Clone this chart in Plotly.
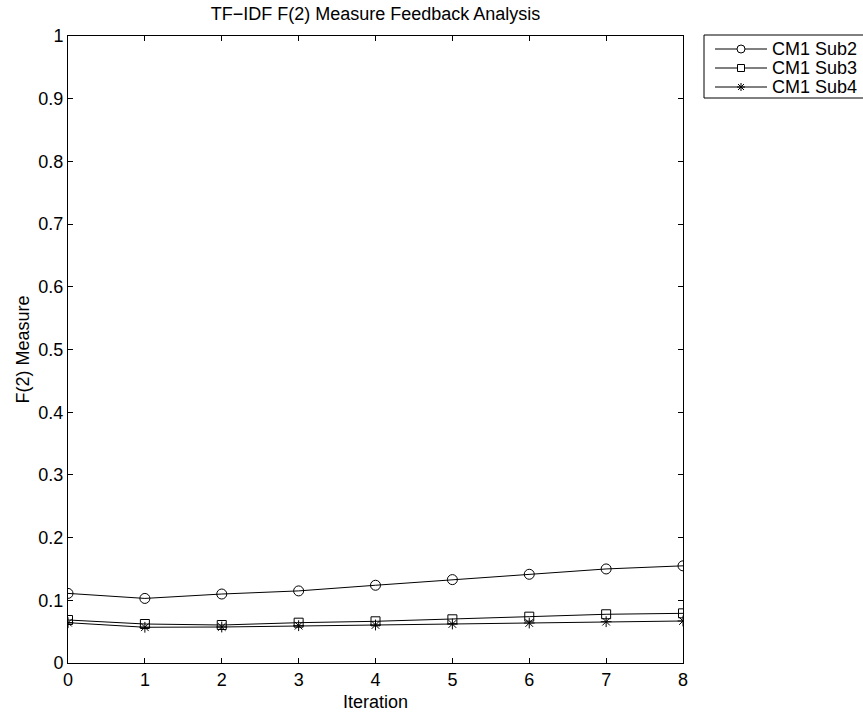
import plotly.graph_objects as go

# Feedback iterations and F(2) scores per subset
iterations = [0, 1, 2, 3, 4, 5, 6, 7, 8]
sub2 = [0.111, 0.103, 0.110, 0.115, 0.124, 0.133, 0.1415, 0.150, 0.155]
sub3 = [0.0686, 0.0622, 0.0606, 0.0643, 0.0665, 0.0697, 0.0739, 0.0777, 0.0792]
sub4 = [0.0643, 0.057, 0.0574, 0.0595, 0.0606, 0.0622, 0.0638, 0.0659, 0.067]
series_names = ["CM1 Sub2", "CM1 Sub3", "CM1 Sub4"]
y_ticks = [0, 0.1, 0.2, 0.3, 0.4, 0.5, 0.6, 0.7, 0.8, 0.9, 1]
y_tick_text = ["0", "0.1", "0.2", "0.3", "0.4", "0.5", "0.6", "0.7", "0.8", "0.9", "1"]

FONT = "Liberation Sans, Arial, sans-serif"
FS = 18
W, H = 863, 713
L, R, T, B = 68, 180, 36, 50
PW, PH = W - L - R, H - T - B

symbols = ["circle-open", "square-open", "asterisk-open"]
sizes = [10, 9, 9]


def px_to_paper(px, py):
    return (px - L) / PW, (H - B - py) / PH


fig = go.Figure()
for name, vals, sym, sz in zip(series_names, [sub2, sub3, sub4], symbols, sizes):
    fig.add_trace(go.Scatter(
        x=iterations, y=vals, name=name, mode="lines+markers",
        line=dict(color="black", width=1),
        marker=dict(symbol=sym, size=sz, color="black",
                    line=dict(color="black", width=1)),
        showlegend=False,
    ))

# Boxed legend at the right (MATLAB-style)
box_left, box_top, box_bottom = 704, 35, 98
row_y = [49, 68, 87]
line_x0, line_x1, text_x = 715, 767, 770
mark_x = (line_x0 + line_x1) / 2
BLACK = dict(color="black", width=1)

shapes = []
x0p, y0p = px_to_paper(box_left, box_bottom)
x1p, y1p = px_to_paper(W + 20, box_top)
shapes.append(dict(type="rect", xref="paper", yref="paper", x0=x0p, y0=y0p,
                   x1=x1p, y1=y1p, line=BLACK, fillcolor="white", layer="below"))

glyphs = [
    dict(type="circle", x0=-4, x1=4, y0=-4, y1=4, fillcolor="white"),
    dict(type="rect", x0=-3.5, x1=3.5, y0=-3.5, y1=3.5, fillcolor="white"),
    dict(type="path", path="M-4,0L4,0M0,-4L0,4M-3,-3L3,3M-3,3L3,-3"),
]

annotations = []
for name, ry, glyph in zip(series_names, row_y, glyphs):
    a, yy = px_to_paper(line_x0, ry)
    b, _ = px_to_paper(line_x1, ry)
    shapes.append(dict(type="line", xref="paper", yref="paper", x0=a, x1=b,
                       y0=yy, y1=yy, line=BLACK, layer="above"))
    mx, _ = px_to_paper(mark_x, ry)
    shapes.append(dict(xref="paper", yref="paper", xsizemode="pixel", ysizemode="pixel",
                       xanchor=mx, yanchor=yy, line=BLACK, layer="above", **glyph))
    tx, _ = px_to_paper(text_x, ry)
    annotations.append(dict(text=name, xref="paper", yref="paper", x=tx, y=yy,
                            xanchor="left", yanchor="middle", showarrow=False,
                            font=dict(family=FONT, size=FS, color="black")))

axis_common = dict(
    showline=True, linecolor="black", linewidth=1, mirror="ticks",
    ticks="inside", ticklen=5, tickcolor="black", showgrid=False,
    zeroline=False, tickfont=dict(family=FONT, size=FS, color="black"),
)

fig.update_layout(
    width=W, height=H,
    margin=dict(l=L, r=R, t=T, b=B, autoexpand=False),
    paper_bgcolor="white", plot_bgcolor="white",
    title=dict(text="TF\u2212IDF F(2) Measure Feedback Analysis",
               x=(L + L + PW) / 2 / W, xanchor="center", y=1 - 14 / H, yanchor="middle",
               font=dict(family=FONT, size=FS, color="black")),
    xaxis=dict(range=[0, 8], tickvals=iterations,
               title=dict(text="Iteration", standoff=6,
                          font=dict(family=FONT, size=FS, color="black")),
               **axis_common),
    yaxis=dict(range=[0, 1], tickvals=y_ticks, ticktext=y_tick_text,
               title=dict(text="F(2) Measure", standoff=4,
                          font=dict(family=FONT, size=FS, color="black")),
               **axis_common),
    shapes=shapes,
    annotations=annotations,
    showlegend=False,
)

fig.write_html("out.html")
